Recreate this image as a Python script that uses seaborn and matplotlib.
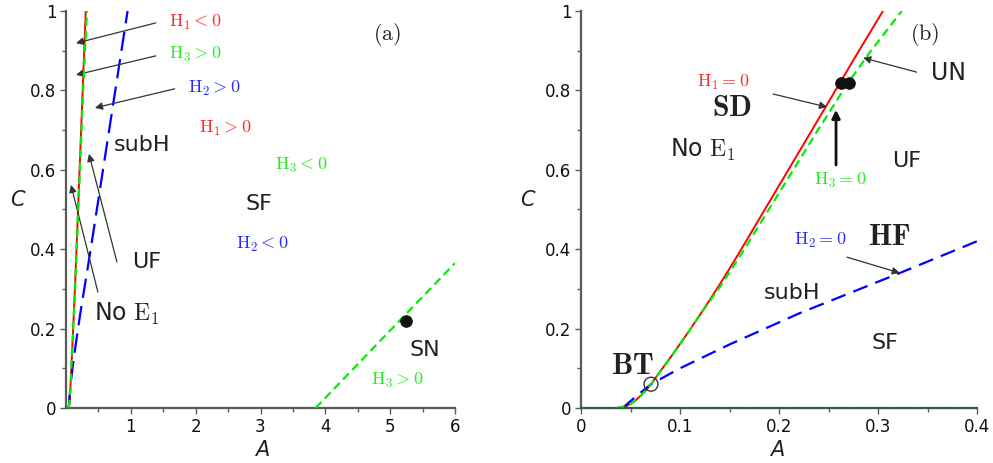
import matplotlib
matplotlib.use("Agg")
import matplotlib.pyplot as plt
import seaborn as sns

# Bifurcation curves in the (A, C) plane
# H1 = 0 (red, solid)
h1_A = [0.036, 0.045, 0.05, 0.055, 0.06, 0.065, 0.0707, 0.08, 0.09, 0.10, 0.11,
        0.12, 0.13, 0.14, 0.15, 0.16, 0.17, 0.248, 0.276, 0.305]
h1_C = [0.0, 0.004, 0.010, 0.019, 0.030, 0.043, 0.06, 0.092, 0.126, 0.161, 0.197,
        0.234, 0.272, 0.311, 0.351, 0.392, 0.434, 0.762, 0.88, 1.0]
# H3 = 0 (green, dashed), main branch
h3_A = [0.036, 0.045, 0.05, 0.055, 0.06, 0.065, 0.0707, 0.08, 0.09, 0.10, 0.11,
        0.12, 0.142, 0.163, 0.1897, 0.2145, 0.2393, 0.2697, 0.293, 0.324]
h3_C = [0.0, 0.004, 0.010, 0.019, 0.030, 0.043, 0.06, 0.092, 0.126, 0.161, 0.197,
        0.234, 0.311, 0.392, 0.5, 0.6, 0.7, 0.819, 0.9, 1.0]
# H3 = 0, second branch at large A
h3b_A = [3.85, 6.0]
h3b_C = [0.0, 0.365]
# H2 = 0 (blue, long dashes)
h2_A = [0.042, 0.055, 0.0707, 0.10, 0.15, 0.221, 0.322, 0.40, 0.95]
h2_C = [0.0, 0.028, 0.06, 0.10, 0.16, 0.239, 0.34, 0.42, 1.0]

# Special points
bt_A, bt_C = [0.0707], [0.06]
sd_A, sd_C = [0.2625, 0.2705], [0.819, 0.819]
sn_A, sn_C = [5.25], [0.22]

a_xticks = [1, 2, 3, 4, 5, 6]
b_xticks = [0, 0.1, 0.2, 0.3, 0.4]
yticks = [0, 0.2, 0.4, 0.6, 0.8, 1]

RED, GREEN, BLUE = "#ff0000", "#00ee00", "#0000ff"
TRED, TGREEN, TBLUE = "#ff2a2a", "#22ee22", "#2a2aff"
INK = "#222222"

sns.set_style("ticks")
plt.rcParams.update({
    "font.family": ["DejaVu Sans"],
    "mathtext.fontset": "cm",
    "lines.scale_dashes": False,
    "axes.edgecolor": "#5a5a5a",
    "axes.linewidth": 1.6,
    "xtick.color": "#5a5a5a",
    "ytick.color": "#5a5a5a",
    "xtick.labelcolor": "#111111",
    "ytick.labelcolor": "#111111",
    "xtick.labelsize": 12,
    "ytick.labelsize": 12,
    "xtick.major.size": 4,
    "ytick.major.size": 4,
    "xtick.minor.size": 3,
    "ytick.minor.size": 3,
    "xtick.major.width": 1,
    "ytick.major.width": 1,
    "xtick.minor.width": 1,
    "ytick.minor.width": 1,
})

fig = plt.figure(figsize=(9.93, 4.63), dpi=100)
axa = fig.add_axes([66 / 993, 55 / 463, 389 / 993, 397 / 463])
axb = fig.add_axes([581 / 993, 55 / 463, 396 / 993, 397 / 463])

GREEN_DASH = (0, (6, 3.5))


def curves(ax, blue_dash):
    sns.lineplot(x=h1_A, y=h1_C, ax=ax, sort=False, estimator=None,
                 color=RED, lw=1.4, zorder=3)
    sns.lineplot(x=h3_A, y=h3_C, ax=ax, sort=False, estimator=None,
                 color=GREEN, lw=1.6, linestyle=GREEN_DASH, zorder=4)
    sns.lineplot(x=h2_A, y=h2_C, ax=ax, sort=False, estimator=None,
                 color=BLUE, lw=1.6, linestyle=blue_dash, zorder=3)


def style_axes(ax, xmax, xticks, xminor):
    ax.set_xlim(0, xmax)
    ax.set_ylim(0, 1)
    ax.set_xticks(xticks)
    ax.set_xticks(xminor, minor=True)
    ax.set_yticks(yticks)
    ax.set_yticks([0.1, 0.3, 0.5, 0.7, 0.9], minor=True)
    ax.set_yticklabels(["0", "0.2", "0.4", "0.6", "0.8", "1"])
    sns.despine(ax=ax)
    ax.tick_params(axis="both", which="both", direction="out", pad=3)
    ax.set_xlabel("A", fontsize=15, fontstyle="italic", color=INK)
    ax.set_ylabel("C", fontsize=15, fontstyle="italic", color=INK, rotation=0)


def arrow(ax, tail, tip, lw=0.9, color="#333333", ms=11):
    ax.annotate("", xy=tip, xytext=tail,
                arrowprops=dict(arrowstyle="-|>", color=color, lw=lw,
                                mutation_scale=ms, shrinkA=0, shrinkB=0))


def label(ax, x, y, s, color=INK, size=16, **kw):
    ax.text(x, y, s, color=color, fontsize=size, ha="center", va="center", **kw)


HS = 13      # size of the H_i conditions
BS = 21.5    # size of the bold point names

# ---------------- panel (a) ----------------
curves(axa, (0, (14, 6)))
sns.lineplot(x=h3b_A, y=h3b_C, ax=axa, sort=False, estimator=None,
             color=GREEN, lw=1.6, linestyle=GREEN_DASH, zorder=4)
sns.scatterplot(x=sn_A, y=sn_C, ax=axa, color="#111111", s=70,
                edgecolor="#111111", zorder=6, legend=False)
style_axes(axa, 6, a_xticks, [0.5, 1.5, 2.5, 3.5, 4.5, 5.5])
axa.xaxis.set_label_coords(0.504, -0.08)
axa.yaxis.set_label_coords(-0.126, 0.5)

label(axa, 4.95, 0.94, r"$\mathrm{(a)}$", size=16)
label(axa, 2.0, 0.97, r"$\mathrm{H}_1<0$", TRED, HS)
label(axa, 2.0, 0.890, r"$\mathrm{H}_3>0$", TGREEN, HS)
label(axa, 2.29, 0.806, r"$\mathrm{H}_2>0$", TBLUE, HS)
label(axa, 2.45, 0.705, r"$\mathrm{H}_1>0$", TRED, HS)
label(axa, 1.17, 0.662, "subH")
label(axa, 3.63, 0.610, r"$\mathrm{H}_3<0$", TGREEN, HS)
label(axa, 2.98, 0.514, "SF")
label(axa, 3.03, 0.413, r"$\mathrm{H}_2<0$", TBLUE, HS)
label(axa, 1.25, 0.368, "UF")
label(axa, 0.94, 0.237, r"No $\mathrm{E}_1$", size=17)
label(axa, 5.54, 0.146, "SN")
label(axa, 5.11, 0.070, r"$\mathrm{H}_3>0$", TGREEN, HS)

arrow(axa, (1.385, 0.970), (0.154, 0.919))
arrow(axa, (1.385, 0.887), (0.154, 0.839))
arrow(axa, (1.677, 0.804), (0.446, 0.756))
arrow(axa, (0.785, 0.368), (0.354, 0.640))
arrow(axa, (0.492, 0.292), (0.077, 0.562))

# ---------------- panel (b) ----------------
curves(axb, (0, (11, 6)))
# trivial branch along C = 0
axb.plot([0, 0.4], [0, 0], color="#1a3a8a", lw=1.4, linestyle=(0, (1, 1.2)),
         clip_on=False, zorder=5)
axb.plot([0, 0.4], [0, 0], color="#2a7a2a", lw=1.0, linestyle=(1.1, (1, 1.2)),
         clip_on=False, zorder=5)
sns.scatterplot(x=sd_A, y=sd_C, ax=axb, color="#111111", s=70,
                edgecolor="#111111", zorder=6, legend=False)
sns.scatterplot(x=bt_A, y=bt_C, ax=axb, facecolor="none", edgecolor="#333333",
                s=100, linewidth=1.0, zorder=6, legend=False)
style_axes(axb, 0.4, b_xticks, [0.05, 0.15, 0.25, 0.35])
axb.set_xticklabels(["0", "0.1", "0.2", "0.3", "0.4"])
axb.xaxis.set_label_coords(0.495, -0.08)
axb.yaxis.set_label_coords(-0.134, 0.5)

label(axb, 0.347, 0.94, r"$\mathrm{(b)}$", size=16)
label(axb, 0.371, 0.844, "UN", size=17)
label(axb, 0.144, 0.819, r"$\mathrm{H}_1=0$", TRED, HS)
label(axb, 0.152, 0.756, r"$\mathbf{SD}$", size=BS)
label(axb, 0.123, 0.650, r"No $\mathrm{E}_1$", size=17)
label(axb, 0.262, 0.574, r"$\mathrm{H}_3=0$", TGREEN, HS)
label(axb, 0.329, 0.622, "UF")
label(axb, 0.311, 0.431, r"$\mathbf{HF}$", size=BS)
label(axb, 0.242, 0.423, r"$\mathrm{H}_2=0$", TBLUE, HS)
label(axb, 0.213, 0.290, "subH")
label(axb, 0.307, 0.164, "SF")
label(axb, 0.052, 0.108, r"$\mathbf{BT}$", size=BS)

arrow(axb, (0.339, 0.846), (0.285, 0.882))
arrow(axb, (0.194, 0.791), (0.2485, 0.758))
arrow(axb, (0.2576, 0.612), (0.2576, 0.751), lw=2.0, color="#111111", ms=12)
arrow(axb, (0.2687, 0.380), (0.322, 0.340))

fig.savefig("out.png", dpi=100)
